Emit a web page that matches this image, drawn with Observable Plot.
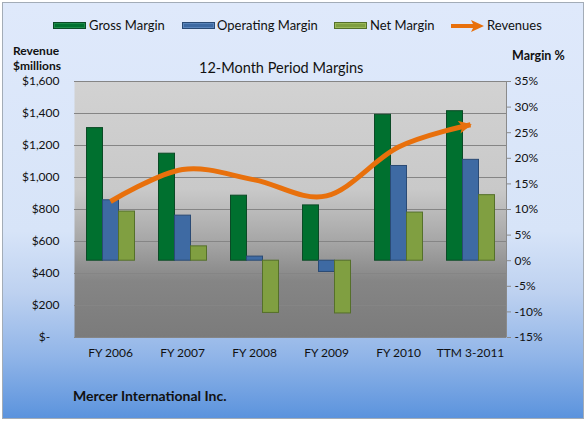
<!DOCTYPE html>
<html>
<head>
<meta charset="utf-8">
<script src="https://cdn.jsdelivr.net/npm/d3@7"></script>
<script src="https://cdn.jsdelivr.net/npm/@observablehq/plot@0.6"></script>
<style>
  html, body { margin: 0; padding: 0; background: #ffffff; }
  #wrap { position: relative; width: 588px; height: 422px; overflow: hidden; font-family: Lato, "Open Sans", sans-serif; color: #111; }
  #frame { position: absolute; left: 2px; top: 2px; width: 582px; height: 417px; box-sizing: border-box;
    border: 1px solid #a3acb7;
    background: linear-gradient(to bottom, #dfe9fb 0%, #d7e4f8 55%, #bdd1f0 70%, #91b5e8 85%, #5b93dd 100%); }
  .txt { position: absolute; white-space: nowrap; }
  .bold { font-weight: bold; }
  .lg-text { position: absolute; top: 17px; font-size: 13px; line-height: 16px; }
  .swatch { position: absolute; top: 22px; width: 33px; height: 7px; box-sizing: border-box; }
  #chart { position: absolute; left: 0; top: 0; }
</style>
</head>
<body>
<svg width="0" height="0" style="position:absolute">
  <defs>
    <linearGradient id="plotBg" x1="0" y1="0" x2="0" y2="1">
      <stop offset="0" stop-color="#d2d2d2"/>
      <stop offset="0.42" stop-color="#c9c9c9"/>
      <stop offset="0.62" stop-color="#a7a7a7"/>
      <stop offset="0.78" stop-color="#858585"/>
      <stop offset="1" stop-color="#7b7b7b"/>
    </linearGradient>
    <marker id="revArrow" viewBox="0 0 10 10" refX="9" refY="5" markerWidth="3" markerHeight="2.6" orient="auto" markerUnits="strokeWidth">
      <path d="M0,0 L10,5 L0,10 L2.5,5 z" fill="#e8700c"/>
    </marker>
  </defs>
</svg>
<div id="wrap">
  <div id="frame"></div>

  <div class="swatch" style="left:53px;background:#00702f;border:1px solid #0b4a26;box-shadow:inset 0 0 0 1px #1c8a4a"></div>
  <div class="lg-text" style="left:89px">Gross Margin</div>
  <div class="swatch" style="left:182px;background:#3e6aa3;border:1px solid #2a4a74;box-shadow:inset 0 0 0 1px #5a85bb"></div>
  <div class="lg-text" style="left:217px">Operating Margin</div>
  <div class="swatch" style="left:334px;background:#809f41;border:1px solid #55702a;box-shadow:inset 0 0 0 1px #9ab85a"></div>
  <div class="lg-text" style="left:370px">Net Margin</div>
  <svg style="position:absolute;left:451px;top:19px" width="34" height="14">
    <line x1="0" y1="7" x2="24" y2="7" stroke="#e8700c" stroke-width="4"/>
    <path d="M20,1 L33,7 L20,13 L23,7 z" fill="#e8700c"/>
  </svg>
  <div class="lg-text" style="left:487px">Revenues</div>

  <div class="txt bold" style="left:13px;top:43px;font-size:12px;line-height:15px">Revenue</div>
  <div class="txt bold" style="left:13px;top:58px;font-size:12px;line-height:15px">$millions</div>
  <div class="txt bold" style="left:512px;top:48px;font-size:12.5px">Margin %</div>
  <div class="txt" style="left:199px;top:59px;font-size:14.5px">12-Month Period Margins</div>
  <div class="txt bold" style="left:73px;top:387px;font-size:14px">Mercer International Inc.</div>

  <div id="chart"></div>
</div>
<script>
// Reporting periods
const categories = ["FY 2006", "FY 2007", "FY 2008", "FY 2009", "FY 2010", "TTM 3-2011"];
// Margins, percent of revenue
const grossMargin = [25.9, 20.9, 12.7, 10.8, 28.5, 29.2];
const operatingMargin = [11.8, 8.8, 0.8, -2.2, 18.5, 19.7];
const netMargin = [9.6, 2.8, -10.2, -10.3, 9.4, 12.8];
// Revenues, $ millions
const revenues = [850, 1050, 985, 885, 1190, 1330];
// Axis ticks
const revenueTicks = [0, 200, 400, 600, 800, 1000, 1200, 1400, 1600];
const marginTicks = [-15, -10, -5, 0, 5, 10, 15, 20, 25, 30, 35];

// Revenue ($0–$1,600) shares the vertical extent of the margin axis (-15%–35%)
const revToPct = d3.scaleLinear([0, 1600], [-15, 35]);

const rows = categories.map((c, i) => ({
  category: c,
  gross: grossMargin[i],
  operating: operatingMargin[i],
  net: netMargin[i],
  revenue: revenues[i]
}));

const barStyle = {strokeWidth: 1, style: "filter: drop-shadow(1px 1px 1px rgba(0,0,0,0.3))"};

const chart = Plot.plot({
  width: 588,
  height: 422,
  marginTop: 81,
  marginBottom: 85,
  marginLeft: 74,
  marginRight: 82,
  style: {background: "transparent", fontFamily: "Lato, 'Open Sans', sans-serif", fontSize: "12px", color: "#111", overflow: "visible"},
  x: {type: "band", domain: categories, padding: 0, axis: null},
  y: {domain: [-15, 35], axis: null},
  marks: [
    Plot.frame({fill: "url(#plotBg)", stroke: null}),
    Plot.ruleY(revenueTicks, {y: d => revToPct(d), stroke: "#858585", strokeWidth: 1}),
    Plot.barY(rows, {x: "category", y1: 0, y2: "gross", fill: "#00702f", stroke: "#0b4a26", insetLeft: 12.5, insetRight: 43.5, ...barStyle}),
    Plot.barY(rows, {x: "category", y1: 0, y2: "operating", fill: "#3e6aa3", stroke: "#2a4a74", insetLeft: 28.5, insetRight: 27.5, ...barStyle}),
    Plot.barY(rows, {x: "category", y1: 0, y2: "net", fill: "#809f41", stroke: "#55702a", insetLeft: 44.5, insetRight: 11.5, ...barStyle}),
    Plot.line(rows, {x: "category", y: d => revToPct(d.revenue), stroke: "#e8700c", strokeWidth: 5, curve: "cardinal", tension: 0, strokeLinecap: "butt"}),
    Plot.axisY(revenueTicks.map(d => revToPct(d)), {
      anchor: "left", tickSize: 0, tickPadding: 15, label: null,
      tickFormat: d => {
        const v = Math.round(revToPct.invert(d));
        return v === 0 ? "$-\u00a0\u00a0\u00a0" : "$" + d3.format(",")(v);
      }
    }),
    Plot.axisY(marginTicks, {anchor: "right", tickSize: 4, tickPadding: 4, label: null, stroke: "#8a8a8a", tickFormat: d => d + "%"}),
    Plot.ruleX([0], {x: () => categories[5], dx: 36, stroke: "#8a8a8a", y1: -15, y2: 35}),
    Plot.axisX({tickSize: 0, tickPadding: 11, label: null})
  ]
});

// Arrowhead on the revenue line
chart.querySelectorAll('g[aria-label="line"] path').forEach(p => p.setAttribute("marker-end", "url(#revArrow)"));
document.getElementById("chart").appendChild(chart);
</script>
</body>
</html>
